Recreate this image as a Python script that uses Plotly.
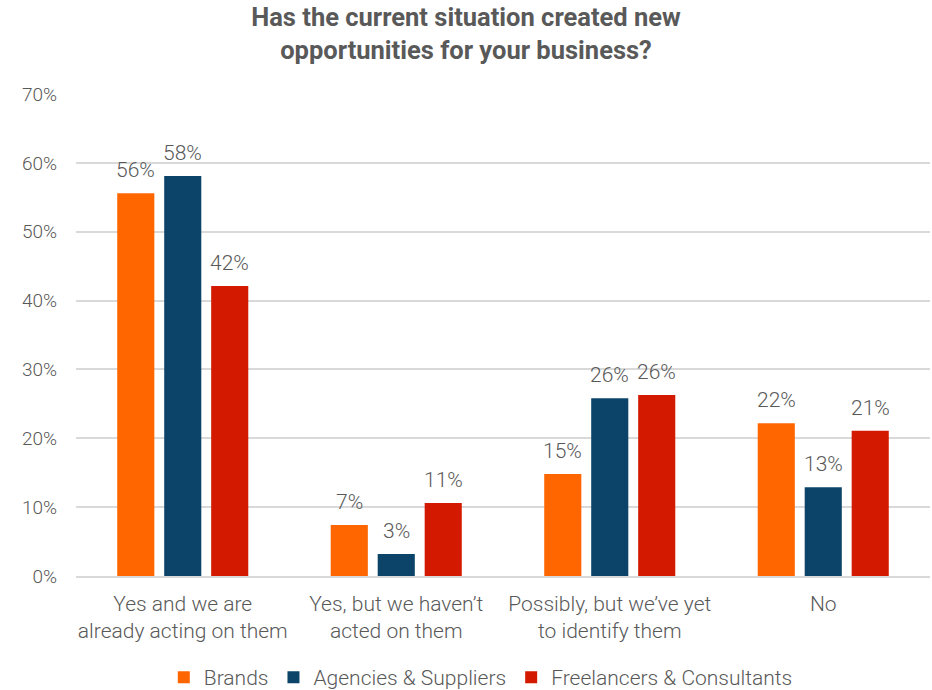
import plotly.graph_objects as go

categories = [
    "Yes and we are<br>already acting on them",
    "Yes, but we haven’t<br>acted on them",
    "Possibly, but we’ve yet<br>to identify them",
    "No",
]
brands = [0.556, 0.074, 0.148, 0.222]
agencies = [0.581, 0.032, 0.258, 0.129]
freelancers = [0.421, 0.106, 0.263, 0.211]
y_ticks = [0, 0.1, 0.2, 0.3, 0.4, 0.5, 0.6, 0.7]

series = [
    ("Brands", brands, "#FF6600"),
    ("Agencies & Suppliers", agencies, "#0B4468"),
    ("Freelancers & Consultants", freelancers, "#D31A00"),
]

GREY = "#595959"
LIGHT = dict(family="Roboto, sans-serif", weight=300, color=GREY)
BARGAP = 0.34
PLOT_W = 932 - 76 - 2
SLOT_PX = PLOT_W / len(categories) * (1 - BARGAP) / len(series)

fig = go.Figure()
for i, (name, vals, color) in enumerate(series):
    fig.add_trace(go.Bar(
        name=name, x=categories, y=vals,
        marker=dict(color=color, line=dict(width=0)),
    ))
    # value labels sit a little above each bar
    for cat, v in zip(categories, vals):
        fig.add_annotation(
            x=cat, y=v, xref="x", yref="y",
            text=f"{v:.0%}", showarrow=False,
            xanchor="center", yanchor="bottom",
            xshift=(i - 1) * SLOT_PX, yshift=9,
            font=dict(**LIGHT, size=21),
        )

fig.update_layout(
    width=932, height=690,
    margin=dict(l=76, r=2, t=94, b=114, autoexpand=False),
    paper_bgcolor="white", plot_bgcolor="white",
    barmode="group", bargap=BARGAP, bargroupgap=0.21,
    title=dict(
        text="Has the current situation created new<br>opportunities for your business?",
        x=0.5, xanchor="center", yref="container", y=0.963, yanchor="middle",
        font=dict(family="Roboto, sans-serif", weight=700, size=25.5, color=GREY),
    ),
    font=dict(**LIGHT, size=20),
    xaxis=dict(
        showgrid=False, showline=True, linecolor="#D9D9D9", linewidth=1.5,
        ticks="", ticklabelstandoff=8, tickfont=dict(**LIGHT, size=21),
    ),
    yaxis=dict(
        range=[0, 0.7], tickvals=y_ticks, tickformat=".0%",
        showgrid=True, gridcolor="#D9D9D9", gridwidth=1.5,
        zeroline=False, ticks="", ticklabelstandoff=18,
        tickfont=dict(**LIGHT, size=19),
    ),
    legend=dict(
        orientation="h", x=0.474, xanchor="center",
        yref="container", y=0.018, yanchor="middle",
        font=dict(**LIGHT, size=21), itemwidth=30,
    ),
)

fig.write_html("out.html")
